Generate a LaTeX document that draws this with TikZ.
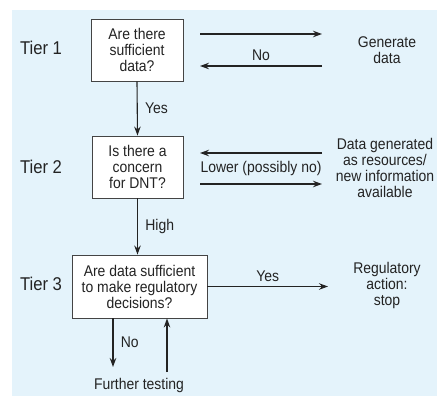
\documentclass[tikz,border=0pt]{standalone}
\usepackage{fontspec}
\setmainfont[FakeStretch=0.9]{Liberation Sans}
\usepackage{xcolor}
\usetikzlibrary{arrows.meta}
\definecolor{panelblue}{RGB}{228,243,251}
\definecolor{ink}{RGB}{35,35,35}

\begin{document}
\begin{tikzpicture}[x=1pt, y=-1pt,
  every node/.style={font=\fontsize{15.5}{16}\selectfont, text=ink, align=center},
  qbox/.style={draw=ink!85, line width=0.9pt, fill=white, inner sep=0pt},
  tier/.style={font=\fontsize{18.5}{20}\selectfont},
  arr/.style={draw=ink, line width=1.1pt, -{Stealth[length=9pt,width=6.5pt]}}]

\useasboundingbox (0,0) rectangle (437,396);
\fill[panelblue] (12,10) rectangle (437,396);

% Tier 1
\node[tier] (t1) at (41,48) {Tier 1};
\node[qbox, minimum width=92pt, minimum height=62pt] (q1) at (137,50) {Are there\\sufficient\\data?};
\node (gen) at (387,50) {Generate\\data};
\coordinate (a1) at (200,34);
\coordinate (b1) at (322,34);
\coordinate (a2) at (322,66);
\coordinate (b2) at (200,66);
\draw[arr] (a1) -- (b1);
\draw[arr] (a2) -- (b2) node[midway, above=1pt] {No};

% Tier 2
\node[tier] (t2) at (41,167) {Tier 2};
\node[qbox, minimum width=91pt, minimum height=62pt] (q2) at (137.5,167) {Is there a\\concern\\for DNT?};
\node (dgen) at (385,168) {Data generated\\as resources/\\new information\\available};
\coordinate (c1) at (322,153);
\coordinate (d1) at (200,153);
\coordinate (c2) at (200,184);
\coordinate (d2) at (322,184);
\draw[arr] (c1) -- (d1);
\draw[arr] (c2) -- (d2);
\node (low) at (261,168.5) {Lower (possibly no)};

\draw[arr] (q1.south) -- (q2.north) node[midway, right=4pt] {Yes};

% Tier 3
\node[tier] (t3) at (41,284) {Tier 3};
\node[qbox, minimum width=135pt, minimum height=63pt] (q3) at (139.5,286.5) {Are data sufficient\\to make regulatory\\decisions?};
\node (reg) at (387,285) {Regulatory\\action:\\stop};
\coordinate (e1) at (328,286.5);
\draw[arr] (q3.east) -- (e1) node[midway, above=1pt] {Yes};

\draw[arr] (q2.south) -- (q2.south |- q3.north) node[midway, right=4pt] {High};

% further testing
\node (ft) at (139,385) {Further testing};
\coordinate (f1) at (113,367);
\coordinate (f2) at (167,372);
\draw[arr] (q3.south -| f1) -- (f1) node[midway, right=4pt] {No};
\draw[arr] (f2) -- (q3.south -| f2);

\end{tikzpicture}
\end{document}
